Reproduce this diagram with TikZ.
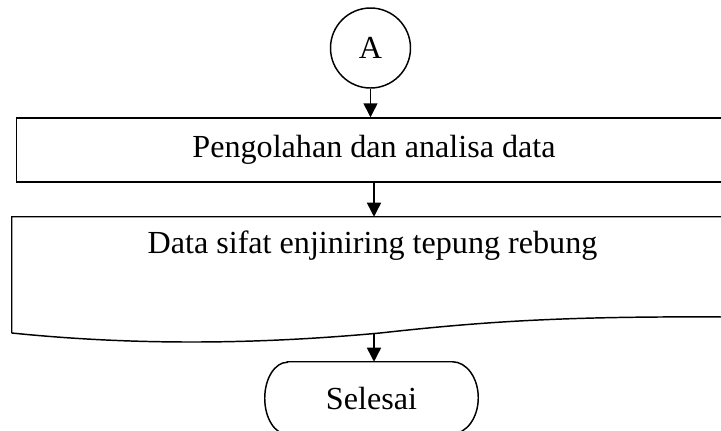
\documentclass[tikz,border=0pt]{standalone}
\usepackage{fontspec}
\setmainfont{Liberation Serif}
\usetikzlibrary{arrows.meta}
\tikzset{
  line/.style={line width=1.1pt, draw=black},
  conn/.style={line, -{Triangle[length=10.5pt,width=10.5pt]}},
  lbl/.style={font=\fontsize{24.1pt}{28pt}\selectfont, inner sep=0pt},
}
\begin{document}
\begin{tikzpicture}[x=0.75pt,y=-0.75pt]
\useasboundingbox (0,0) rectangle (721,430);
\clip (0,0) rectangle (721,430);
\fill[white] (0,0) rectangle (721,430);
% connector A
\node[line, circle, minimum size=60pt, inner sep=0pt, lbl] (A) at (370.5,48) {A};
% process box
\node[line, rectangle, minimum width=536pt, minimum height=48pt, lbl] (proc) at (374,150) {Pengolahan dan analisa data};
% document shape
\node[minimum width=534.75pt, minimum height=87pt, inner sep=0pt] (doc) at (368.5,275) {};
\draw[line] (doc.north west |- 0,333) -- (doc.north west) -- (doc.north east) -- (doc.north east |- 0,317)
  .. controls (560,316) and (480,322) .. (380,333)
  .. controls (250,345) and (130,345) .. (doc.north west |- 0,333);
\node[lbl] (doctext) at (372.5,246) {Data sifat enjiniring tepung rebung};
\coordinate (docb) at (374,333);
% terminal
\node[minimum width=159.75pt, minimum height=54pt, lbl] (end) at (371.5,398) {Selesai};
\draw[line] ([xshift=17pt]end.north west) -- ([xshift=-19.5pt]end.north east)
  arc[start angle=90, end angle=-90, x radius=19.5pt, y radius=27pt]
  -- ([xshift=17pt]end.south west)
  arc[start angle=270, end angle=90, x radius=17pt, y radius=27pt] -- cycle;
% connectors
\draw[conn] (A.south) -- (A.south |- proc.north);
\draw[conn] (proc.south) -- (proc.south |- doc.north);
\draw[conn] (docb) -- (docb |- end.north);
\end{tikzpicture}
\end{document}
